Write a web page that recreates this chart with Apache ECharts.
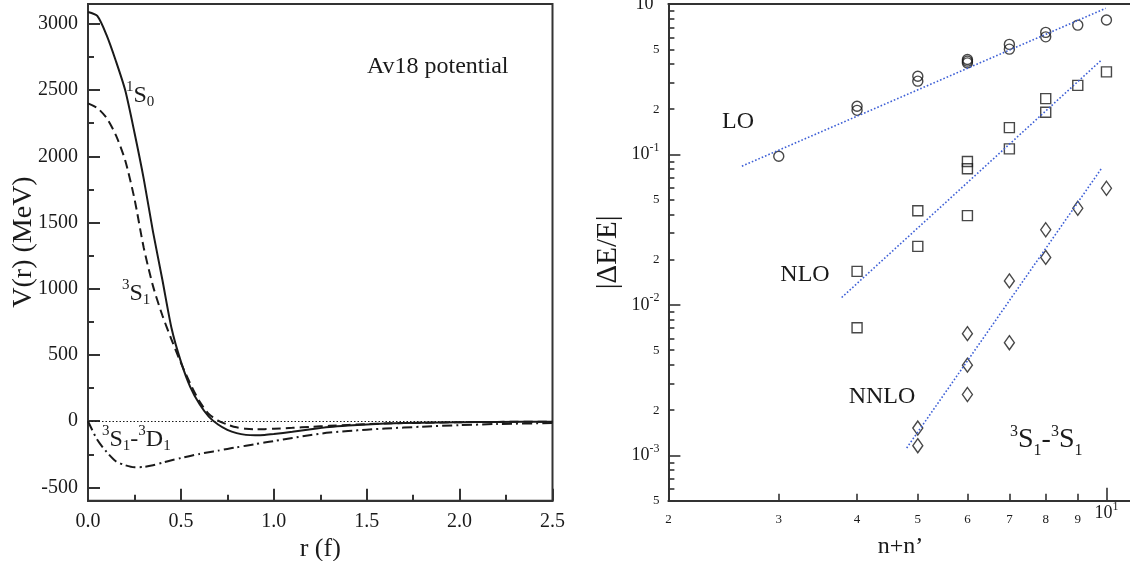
<!DOCTYPE html>
<html>
<head>
<meta charset="utf-8">
<script src="https://cdn.jsdelivr.net/npm/echarts@6/dist/echarts.min.js"></script>
<style>
  html, body { margin: 0; padding: 0; background: #fff; }
  #chart { width: 1130px; height: 561px; }
</style>
</head>
<body>
<div id="chart"></div>
<script>
// ---- Left panel: Av18 potentials V(r) in MeV, r in fm ----
const rValues = [0, 0.05, 0.1, 0.15, 0.2, 0.25, 0.3, 0.35, 0.4, 0.45, 0.5, 0.55, 0.6, 0.65, 0.7, 0.75,
                 0.8, 0.85, 0.9, 0.95, 1.0, 1.1, 1.2, 1.3, 1.4, 1.5, 1.6, 1.8, 2.0, 2.2, 2.5];
const v1S0 = [3090, 3060, 2915, 2720, 2500, 2180, 1830, 1430, 1070, 700, 450, 260, 130, 35, -25, -65,
              -90, -103, -106, -104, -97, -80, -60, -43, -32, -24, -18, -11, -7, -5, -3];
const v3S1 = [2400, 2365, 2290, 2160, 1970, 1680, 1310, 1020, 800, 615, 440, 285, 150, 55, 5, -25,
              -46, -57, -61, -60, -57, -50, -42, -35, -28, -22, -17, -11, -7, -5, -3];
const v3S1_3D1 = [0, -140, -232, -302, -332, -347, -345, -332, -313, -295, -278, -262, -247, -234, -222, -209,
                  -197, -185, -173, -161, -150, -126, -104, -86, -74, -64, -55, -41, -30, -21, -14];
const potTicks = [-500, 0, 500, 1000, 1500, 2000, 2500, 3000];
const potMinorTicks = [-250, 250, 750, 1250, 1750, 2250, 2750];

// ---- Right panel: relative error |dE/E| against n+n' ----
const nLO = [3, 4, 4, 5, 5, 6, 6, 6, 7, 7, 8, 8, 9, 10];
const errLO = [0.0974, 0.209, 0.1965, 0.331, 0.307, 0.428, 0.417, 0.406, 0.539, 0.501, 0.648, 0.605, 0.724, 0.782];
const nNLO = [4, 4, 5, 5, 6, 6, 6, 7, 7, 8, 8, 9, 10];
const errNLO = [0.0167, 0.00706, 0.0423, 0.0245, 0.0898, 0.0803, 0.0392, 0.1507, 0.109, 0.235, 0.191, 0.288, 0.354];
const nNNLO = [5, 5, 6, 6, 6, 7, 7, 8, 8, 9, 10];
const errNNLO = [0.00152, 0.00116, 0.00644, 0.00398, 0.00254, 0.01445, 0.00561, 0.0316, 0.0207, 0.0439, 0.0596];
// power-law fit lines (end points)
const fitLOn = [2.62, 9.97];   const fitLOv = [0.0836, 0.936];
const fitNLOn = [3.78, 9.81];  const fitNLOv = [0.0112, 0.423];
const fitNNLOn = [4.80, 9.81]; const fitNNLOv = [0.00112, 0.0803];
// log-axis ticks
const nLabelTicks = [2, 3, 4, 5, 6, 7, 8, 9, 10];
const nMinorTicks = [3, 4, 5, 6, 7, 8, 9];
const nMajorTicks = [10];
const errLabelTicks = [0.0005, 0.001, 0.002, 0.005, 0.01, 0.02, 0.05, 0.1, 0.2, 0.5, 1];
const errMajorTicks = [0.001, 0.01, 0.1];
const errMinorTicks = [0.0005, 0.0006, 0.0007, 0.0008, 0.0009,
                       0.002, 0.003, 0.004, 0.005, 0.006, 0.007, 0.008, 0.009,
                       0.02, 0.03, 0.04, 0.05, 0.06, 0.07, 0.08, 0.09,
                       0.2, 0.3, 0.4, 0.5, 0.6, 0.7, 0.8, 0.9];

const SERIF = "'Liberation Serif', 'DejaVu Serif', 'Times New Roman', serif";
const INK = '#1a1a1a';
const AXIS = '#333';

function pairs(xs, ys) { return xs.map((x, i) => [x, ys[i]]); }

// "10^e" for decades, plain mantissa otherwise
function logLabel(v) {
  const e = Math.floor(Math.log10(v) + 1e-9);
  const m = Math.round(v / Math.pow(10, e));
  return m === 1 ? '{b|10}{s|' + e + '}' : '{m|' + m + '}';
}

const richY = {
  b: { fontFamily: SERIF, fontSize: 18, color: INK, height: 18 },
  s: { fontFamily: SERIF, fontSize: 12, color: INK, height: 4, verticalAlign: 'top' },
  m: { fontFamily: SERIF, fontSize: 13, color: INK }
};
const richX = {
  b: { fontFamily: SERIF, fontSize: 18, color: INK, height: 18, verticalAlign: 'top' },
  s: { fontFamily: SERIF, fontSize: 12, color: INK, height: 4, verticalAlign: 'top' },
  m: { fontFamily: SERIF, fontSize: 13, color: INK, lineHeight: 30 }
};

// spectroscopic labels: superscript / base / subscript
function specRich(base, small, lh, supH, subH) {
  return {
    b: { fontFamily: SERIF, fontSize: base, color: INK, lineHeight: lh },
    sup: { fontFamily: SERIF, fontSize: small, color: INK, height: supH, verticalAlign: 'top' },
    sub: { fontFamily: SERIF, fontSize: small, color: INK, height: subH, verticalAlign: 'bottom' }
  };
}
const richLeft = specRich(24, 15, 30, 12, 18);
const richRight = specRich(28, 16, 34, 18, 13);

function textEl(x, y, text, opts, extra) {
  return Object.assign({
    type: 'text', x: x, y: y, silent: true, z: 10,
    style: Object.assign({
      text: text, fontFamily: SERIF, fontSize: 24, fill: INK,
      align: 'left', verticalAlign: 'middle'
    }, opts || {})
  }, extra || {});
}

const chart = echarts.init(document.getElementById('chart'), null, { renderer: 'canvas' });

const lineBase = { type: 'line', symbol: 'none', silent: true, animation: false, xAxisIndex: 0, yAxisIndex: 0 };
const logX = { type: 'log', logBase: 10, min: 2, max: 11, gridIndex: 1, position: 'bottom' };
const logY = { type: 'log', logBase: 10, min: 0.0005, max: 1, gridIndex: 1, position: 'left' };
const off = { show: false };
const axisLineOn = { show: true, onZero: false, lineStyle: { color: AXIS, width: 2 } };
const axisLineOff = { show: false, onZero: false };

const option = {
  animation: false,
  backgroundColor: '#fff',
  grid: [
    { left: 88, top: 4, width: 464.5, height: 496.7, show: true, borderColor: AXIS, borderWidth: 2,
      backgroundColor: 'transparent', containLabel: false, outerBoundsMode: 'none' },
    { left: 668.4, top: 4, width: 464, height: 496.7, containLabel: false, outerBoundsMode: 'none' }
  ],
  xAxis: [
    {
      type: 'value', gridIndex: 0, position: 'bottom', min: 0, max: 2.5, interval: 0.5,
      name: 'r (f)', nameLocation: 'middle', nameGap: 28,
      nameTextStyle: { fontFamily: SERIF, fontSize: 26, color: INK },
      axisLine: axisLineOn,
      axisTick: { show: true, inside: true, length: 12, lineStyle: { color: AXIS, width: 2 } },
      minorTick: { show: true, splitNumber: 2, length: 6, lineStyle: { color: AXIS, width: 2 } },
      axisLabel: { fontFamily: SERIF, fontSize: 20, color: INK, margin: 11, formatter: v => v.toFixed(1) },
      splitLine: off
    },
    Object.assign({}, logX, {
      name: 'n+n\u2019', nameLocation: 'middle', nameGap: 34,
      nameTextStyle: { fontFamily: SERIF, fontSize: 24, color: INK },
      axisLine: axisLineOn,
      axisTick: { show: true, inside: true, length: 7, customValues: nMinorTicks, lineStyle: { color: AXIS, width: 1.6 } },
      axisLabel: { customValues: nLabelTicks, margin: 4, formatter: logLabel, rich: richX },
      splitLine: off, minorTick: off
    }),
    Object.assign({}, logX, {
      axisLine: axisLineOff,
      axisTick: { show: true, inside: true, length: 13, customValues: nMajorTicks, lineStyle: { color: AXIS, width: 1.6 } },
      axisLabel: off, splitLine: off, minorTick: off
    }),
    Object.assign({}, logX, {
      position: 'top',
      axisLine: axisLineOn,
      axisTick: off, axisLabel: off, splitLine: off, minorTick: off
    })
  ],
  yAxis: [
    {
      type: 'value', gridIndex: 0, position: 'left', min: -600, max: 3150,
      axisLine: axisLineOn,
      axisTick: { show: true, inside: true, length: 12, customValues: potTicks, lineStyle: { color: AXIS, width: 2 } },
      axisLabel: { customValues: potTicks, fontFamily: SERIF, fontSize: 20, color: INK, margin: 10,
                   formatter: v => String(v) },
      splitLine: off
    },
    {
      type: 'value', gridIndex: 0, position: 'left', min: -600, max: 3150,
      axisLine: axisLineOff,
      axisTick: { show: true, inside: true, length: 6, customValues: potMinorTicks, lineStyle: { color: AXIS, width: 2 } },
      axisLabel: off, splitLine: off
    },
    Object.assign({}, logY, {
      name: '|\u0394E/E|', nameLocation: 'middle', nameGap: 46,
      nameTextStyle: { fontFamily: SERIF, fontSize: 29, color: INK },
      axisLine: axisLineOn,
      axisTick: { show: true, inside: true, length: 6, customValues: errMinorTicks, lineStyle: { color: AXIS, width: 1.6 } },
      axisLabel: { customValues: errLabelTicks, margin: 9, formatter: logLabel, rich: richY },
      splitLine: off, minorTick: off
    }),
    Object.assign({}, logY, {
      axisLine: axisLineOff,
      axisTick: { show: true, inside: true, length: 12, customValues: errMajorTicks, lineStyle: { color: AXIS, width: 1.6 } },
      axisLabel: off, splitLine: off, minorTick: off
    })
  ],
  series: [
    Object.assign({}, lineBase, {
      name: '1S0', data: pairs(rValues, v1S0), smooth: 0.25,
      lineStyle: { color: INK, width: 2 },
      markLine: {
        silent: true, symbol: ['none', 'none'], label: { show: false },
        lineStyle: { color: INK, width: 1.2, type: [1.5, 2] },
        data: [{ yAxis: 0 }]
      }
    }),
    Object.assign({}, lineBase, {
      name: '3S1', data: pairs(rValues, v3S1), smooth: 0.25,
      lineStyle: { color: INK, width: 2, type: [9, 5] }
    }),
    Object.assign({}, lineBase, {
      name: '3S1-3D1', data: pairs(rValues, v3S1_3D1), smooth: 0.25,
      lineStyle: { color: INK, width: 2, type: [10, 4, 2, 4] }
    }),
    // fits
    { type: 'line', xAxisIndex: 1, yAxisIndex: 2, symbol: 'none', silent: true, data: pairs(fitLOn, fitLOv),
      lineStyle: { color: '#3d5fd6', width: 1.6, type: [1.6, 2] } },
    { type: 'line', xAxisIndex: 1, yAxisIndex: 2, symbol: 'none', silent: true, data: pairs(fitNLOn, fitNLOv),
      lineStyle: { color: '#3d5fd6', width: 1.6, type: [1.6, 2] } },
    { type: 'line', xAxisIndex: 1, yAxisIndex: 2, symbol: 'none', silent: true, data: pairs(fitNNLOn, fitNNLOv),
      lineStyle: { color: '#3d5fd6', width: 1.6, type: [1.6, 2] } },
    // computed points
    { type: 'scatter', name: 'LO', xAxisIndex: 1, yAxisIndex: 2, silent: true, symbol: 'circle', symbolSize: 10,
      itemStyle: { color: 'rgba(0,0,0,0)', borderColor: INK, borderWidth: 1.4 }, data: pairs(nLO, errLO) },
    { type: 'scatter', name: 'NLO', xAxisIndex: 1, yAxisIndex: 2, silent: true, symbol: 'rect', symbolSize: 10,
      itemStyle: { color: 'rgba(0,0,0,0)', borderColor: INK, borderWidth: 1.4 }, data: pairs(nNLO, errNLO) },
    { type: 'scatter', name: 'NNLO', xAxisIndex: 1, yAxisIndex: 2, silent: true, symbol: 'diamond', symbolSize: [10, 14],
      itemStyle: { color: 'rgba(0,0,0,0)', borderColor: INK, borderWidth: 1.4 }, data: pairs(nNNLO, errNNLO) }
  ],
  graphic: [
    // y-axis title of the potential panel
    textEl(24, 242, 'V(r) (MeV)', { fontSize: 28, align: 'center' }, { rotation: Math.PI / 2 }),
    textEl(367, 67, 'Av18 potential', { fontSize: 24 }),
    textEl(126, 96, '{sup|1}{b|S}{sub|0}', { rich: richLeft }),
    textEl(122, 294, '{sup|3}{b|S}{sub|1}', { rich: richLeft }),
    textEl(102, 440, '{sup|3}{b|S}{sub|1}{b|-}{sup|3}{b|D}{sub|1}', { rich: richLeft }),
    textEl(738, 122, 'LO', { align: 'center' }),
    textEl(805, 275, 'NLO', { align: 'center' }),
    textEl(882, 397, 'NNLO', { align: 'center' }),
    textEl(1010, 440, '{sup|3}{b|S}{sub|1}{b|-}{sup|3}{b|S}{sub|1}', { rich: richRight })
  ]
};

chart.setOption(option);
</script>
</body>
</html>
